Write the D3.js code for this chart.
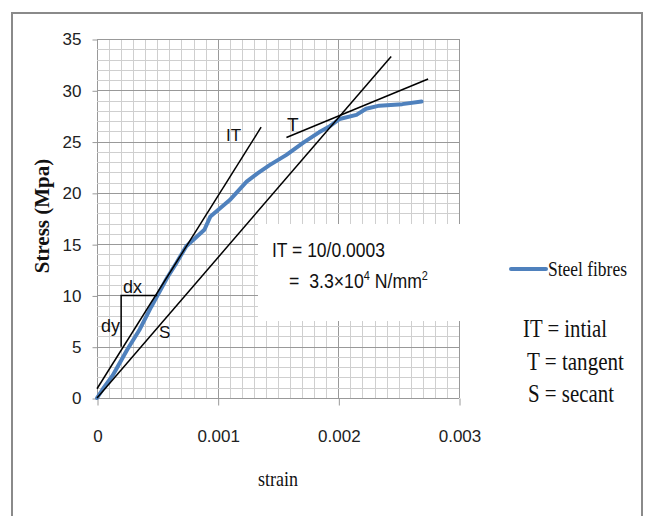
<!DOCTYPE html>
<html>
<head>
<meta charset="utf-8">
<script src="https://cdn.jsdelivr.net/npm/d3@7"></script>
<style>
  body { margin: 0; background: #fff; }
  svg { display: block; }
</style>
</head>
<body>
<div id="chart"></div>
<script>
// stress-strain curve for the steel fibre specimen
var strain = [0, 0.00005, 0.00013, 0.00025, 0.00035, 0.00045, 0.00058, 0.00066, 0.00074, 0.00089,
	0.00094, 0.0011, 0.00124, 0.00133, 0.00143, 0.00157, 0.00171, 0.00184, 0.00193, 0.00201,
	0.00215, 0.00223, 0.00234, 0.00253, 0.00269];
var stress = [0, 0.9, 2.2, 4.7, 6.6, 8.9, 11.7, 13.2, 14.8, 16.4,
	17.7, 19.3, 21.1, 21.9, 22.7, 23.7, 24.9, 25.9, 26.5, 27.2,
	27.6, 28.2, 28.5, 28.65, 28.9];

var yTicks = [0, 5, 10, 15, 20, 25, 30, 35];
var xTicks = [0, 0.001, 0.002, 0.003];
var xTickLabels = ["0", "0.001", "0.002", "0.003"];

// the modulus lines: initial tangent (IT), tangent (T), secant (S)
var modNames = ["IT", "T", "S"];
var modStrain = [[0, 0.00136], [0.00157, 0.002744], [0, 0.002438]];
var modStress = [[0.9, 26.4], [25.4, 31.1], [0, 33.3]];

// the dx / dy slope triangle on the IT line
var triStrain = [0.0002, 0.0002, 0.0005];
var triStress = [5, 10, 10];

var seriesName = "Steel fibres";
var keyLines = ["IT = intial", "T = tangent", "S = secant"];

var width = 646,
	height = 516,
	BLUE = "#4f81bd",
	SANS = "'Liberation Sans', Arial, sans-serif",
	SERIF = "'Liberation Serif', 'Times New Roman', serif";

var svg = d3.select("#chart").append("svg")
	.attr("width", width)
	.attr("height", height);

svg.append("rect").attr("width", width).attr("height", height).style("fill", "#fff");

// chart frame
svg.append("rect")
	.attr("x", 12).attr("y", 13)
	.attr("width", 630).attr("height", 520)
	.style("fill", "none")
	.style("stroke", "#8a8a8a")
	.style("stroke-width", 2);

var x = d3.scaleLinear().domain([0, 0.003]).range([97, 459]);
var y = d3.scaleLinear().domain([0, 35]).range([398, 39]);

// squeeze a text horizontally so it fits the width seen in the picture
function fit(g, w) {
	var t = g.select("text");
	var len = t.node().getComputedTextLength();
	var s = w / len;
	var tr = g.attr("transform") || "";
	g.attr("transform", tr + " scale(" + s + ",1)");
	return g;
}

function label(px, py, txt, size, family, anchor) {
	var g = svg.append("g").attr("transform", "translate(" + px + "," + py + ")");
	g.append("text")
		.text(txt)
		.style("font-family", family)
		.style("font-size", size + "px")
		.style("text-anchor", anchor || "start")
		.style("fill", "#111");
	return g;
}

// grid: fine lines each 0.0001 strain and 1 MPa, heavier at the major ticks
var grid = svg.append("g").attr("id", "grid");
var vLines = d3.range(0, 31).map(function(i) { return i * 0.0001; });
var hLines = d3.range(0, 36);

grid.selectAll(".v").data(vLines).enter().append("line")
	.attr("x1", function(d) { return Math.round(x(d)) + 0.5; })
	.attr("x2", function(d) { return Math.round(x(d)) + 0.5; })
	.attr("y1", y(35)).attr("y2", y(0))
	.style("stroke", function(d, i) { return i % 10 == 0 ? "#999" : "#cfcfcf"; })
	.style("stroke-width", 1);

grid.selectAll(".h").data(hLines).enter().append("line")
	.attr("y1", function(d) { return Math.round(y(d)) + 0.5; })
	.attr("y2", function(d) { return Math.round(y(d)) + 0.5; })
	.attr("x1", x(0)).attr("x2", x(0.003))
	.style("stroke", function(d) { return d % 5 == 0 ? "#999" : "#cfcfcf"; })
	.style("stroke-width", 1);

// axes (ticks + labels only, the grid gives the axis lines)
var yAxis = svg.append("g")
	.attr("transform", "translate(" + (x(0) + 0.5) + ",0.5)")
	.call(d3.axisLeft(y).tickValues(yTicks).tickSize(5).tickPadding(11));

var xAxis = svg.append("g")
	.attr("transform", "translate(0.5," + (y(0) + 0.5) + ")")
	.call(d3.axisBottom(x).tickValues(xTicks).tickSize(7).tickPadding(24)
		.tickFormat(function(d, i) { return xTickLabels[i]; }));

[yAxis, xAxis].forEach(function(a) {
	a.select(".domain").remove();
	a.selectAll(".tick line").style("stroke", "#999");
	a.selectAll(".tick text")
		.style("font-family", SANS)
		.style("font-size", "17px")
		.style("fill", "#222");
});

// white text box sitting on top of the grid
svg.append("rect")
	.attr("x", 258).attr("y", 224)
	.attr("width", 206).attr("height", 97)
	.style("fill", "#fff");

// the series
var line = d3.line()
	.x(function(d) { return x(d[0]); })
	.y(function(d) { return y(d[1]); });

svg.append("path")
	.datum(d3.zip(strain, stress))
	.attr("d", line)
	.style("fill", "none")
	.style("stroke", BLUE)
	.style("stroke-width", 4)
	.style("stroke-linejoin", "round")
	.style("stroke-linecap", "round");

// modulus lines
svg.selectAll(".mod").data(modNames).enter().append("path")
	.attr("class", "mod")
	.attr("d", function(d, i) { return line(d3.zip(modStrain[i], modStress[i])); })
	.style("fill", "none")
	.style("stroke", "#000")
	.style("stroke-width", 1.5);

svg.append("path")
	.attr("d", line(d3.zip(triStrain, triStress)))
	.style("fill", "none")
	.style("stroke", "#000")
	.style("stroke-width", 1.5);

// labels on the chart
label(226, 141, "IT", 17, SANS);
label(287, 131, "T", 19, SANS);
label(159, 338, "S", 17, SANS);
label(123, 293, "dx", 18, SANS);
label(101, 332, "dy", 18, SANS);

fit(label(272, 257, "IT = 10/0.0003", 21, SANS), 113);

var l2 = svg.append("g").attr("transform", "translate(289,288)");
var t2 = l2.append("text")
	.style("font-family", SANS)
	.style("font-size", "21px")
	.style("fill", "#111")
	.attr("xml:space", "preserve");
t2.append("tspan").text("=  3.3\u00d710");
t2.append("tspan").text("4").attr("dy", -8).style("font-size", "13px");
t2.append("tspan").text(" N/mm").attr("dy", 8);
t2.append("tspan").text("2").attr("dy", -8).style("font-size", "13px");
l2.attr("transform", "translate(289,288) scale(" + (139 / t2.node().getBBox().width) + ",1)");

// axis titles
svg.append("text")
	.attr("transform", "translate(49,216) rotate(-90)")
	.text("Stress (Mpa)")
	.style("font-family", SERIF)
	.style("font-size", "21px")
	.style("font-weight", "bold")
	.style("text-anchor", "middle")
	.style("fill", "#111");

fit(label(278, 486, "strain", 22, SERIF, "middle"), 40);

// legend
svg.append("line")
	.attr("x1", 511).attr("x2", 546)
	.attr("y1", 269).attr("y2", 269)
	.style("stroke", BLUE)
	.style("stroke-width", 4)
	.style("stroke-linecap", "round");
fit(label(548, 276, seriesName, 20, SERIF), 79);

var keyX = [523, 527, 528], keyY = [337, 370, 402], keyW = [84, 97, 86];
keyLines.forEach(function(k, i) {
	fit(label(keyX[i], keyY[i], k, 26, SERIF), keyW[i]);
});
</script>
</body>
</html>
